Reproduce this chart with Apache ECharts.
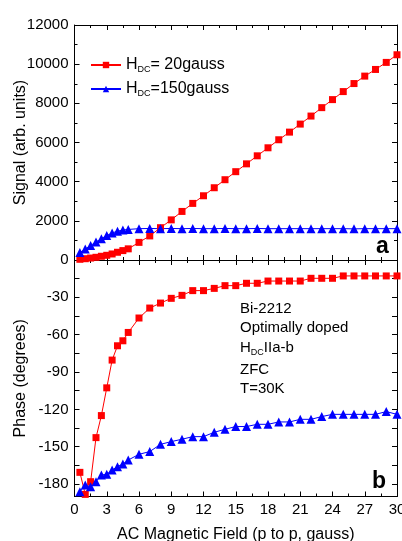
<!DOCTYPE html>
<html>
<head>
<meta charset="utf-8">
<script src="https://cdn.jsdelivr.net/npm/echarts@6/dist/echarts.min.js"></script>
<style>
html,body{margin:0;padding:0;background:#fff;}
#chart{width:402px;height:541px;}
</style>
</head>
<body>
<div id="chart"></div>
<script>
// AC magnetic field (p to p, gauss)
const fieldX = [0.5, 1, 1.5, 2, 2.5, 3, 3.5, 4, 4.5, 5,
  6, 7, 8, 9, 10, 11, 12, 13, 14, 15, 16, 17, 18, 19, 20,
  21, 22, 23, 24, 25, 26, 27, 28, 29, 30];
// Panel a: signal (arb. units)
const signal20 = [36, 66, 100, 138, 190, 240, 308, 395, 480, 570,
  900, 1230, 1650, 2050, 2480, 2890, 3280, 3690, 4100, 4510, 4910, 5320, 5730, 6140, 6530,
  6940, 7350, 7780, 8190, 8600, 9010, 9390, 9730, 10090, 10480];
const signal150 = [380, 560, 740, 920, 1090, 1250, 1380, 1470, 1530, 1560,
  1600, 1610, 1600, 1610, 1600, 1610, 1600, 1600, 1610, 1600, 1600, 1610, 1600, 1600, 1600,
  1600, 1600, 1600, 1600, 1600, 1590, 1600, 1600, 1600, 1600];
// Panel b: phase (degrees)
const phase20 = [-170.6, -188.3, -178.1, -142.7, -125, -102.7, -80.4, -68.9, -64.9, -58.2,
  -46.6, -38.6, -34.6, -30.8, -28.4, -24.6, -24.6, -22.8, -20.6, -20.6, -18.7, -18.7, -16.9, -16.9, -16.9,
  -16.9, -14.7, -14.7, -14.7, -12.8, -12.8, -12.8, -12.8, -12.8, -12.8];
const phase150 = [-186.2, -180.8, -182.1, -178.1, -172.7, -172.2, -168.7, -166, -163.9, -160.7,
  -156.1, -153.9, -148.1, -145.9, -144, -141.9, -141.9, -138.4, -136, -133.8, -133.8, -132, -132, -130.1, -130.1,
  -128, -128, -125.8, -124, -124, -124, -124, -124, -121.8, -124];
// tick labels
const xTicks = [0, 3, 6, 9, 12, 15, 18, 21, 24, 27, 30];
const signalTicks = [0, 2000, 4000, 6000, 8000, 10000, 12000];
const phaseTicks = [-180, -150, -120, -90, -60, -30];
const phaseMinorTicks = [-180, -165, -150, -135, -120, -105, -90, -75, -60, -45, -30, -15];
const seriesNames = ['HDC= 20gauss', 'HDC=150gauss'];
const notes = ['Bi-2212', 'Optimally doped', 'HDC||a-b', 'ZFC', 'T=30K'];

const FONT = "'Liberation Sans', Arial, sans-serif";
const pairs = (xs, ys) => xs.map((x, i) => [x, ys[i]]);
const plain = v => String(v);

function xAx(gridIndex, position, showLabel, name) {
  return {
    type: 'value', gridIndex, position, min: xTicks[0], max: xTicks[xTicks.length - 1], interval: 3,
    axisLine: { show: true, onZero: false, lineStyle: { color: '#000', width: 1 } },
    axisTick: { show: true, inside: true, length: 5, lineStyle: { color: '#000' } },
    minorTick: { show: true, splitNumber: 2, length: 3, lineStyle: { color: '#000' } },
    splitLine: { show: false },
    axisLabel: { show: showLabel, color: '#000', fontSize: 15, fontFamily: FONT, margin: 6, formatter: plain },
    name: name || '', nameLocation: 'middle', nameGap: 30, nameMoveOverlap: false,
    nameTextStyle: { color: '#000', fontSize: 16, fontFamily: FONT }
  };
}

const option = {
  animation: false,
  backgroundColor: '#fff',
  grid: [
    { left: 74.5, right: 5, top: 25, height: 235, containLabel: false, outerBoundsMode: 'none' },
    { left: 74.5, right: 5, top: 260, height: 236.5, containLabel: false, outerBoundsMode: 'none' }
  ],
  xAxis: [
    xAx(0, 'bottom', false),
    xAx(0, 'top', false),
    xAx(1, 'bottom', true, 'AC Magnetic Field (p to p, gauss)'),
    xAx(1, 'top', false)
  ],
  yAxis: [
    {
      type: 'value', gridIndex: 0, position: 'left', min: 0, max: 12000, interval: 2000,
      axisLine: { show: true, onZero: false, lineStyle: { color: '#000' } },
      axisTick: { show: true, inside: true, length: 5, lineStyle: { color: '#000' } },
      minorTick: { show: true, splitNumber: 2, length: 3, lineStyle: { color: '#000' } },
      splitLine: { show: false },
      axisLabel: { color: '#000', fontSize: 15, fontFamily: FONT, margin: 6, formatter: plain },
      name: 'Signal (arb. units)', nameLocation: 'middle', nameGap: 46, nameMoveOverlap: false,
      nameTextStyle: { color: '#000', fontSize: 16, fontFamily: FONT }
    },
    {
      type: 'value', gridIndex: 0, position: 'right', min: 0, max: 12000, interval: 2000,
      axisLine: { show: true, onZero: false, lineStyle: { color: '#000' } },
      axisTick: { show: true, inside: true, length: 5, lineStyle: { color: '#000' } },
      minorTick: { show: true, splitNumber: 2, length: 3, lineStyle: { color: '#000' } },
      splitLine: { show: false },
      axisLabel: { show: false }
    },
    {
      type: 'value', gridIndex: 1, position: 'left', min: -190, max: 0,
      axisLine: { show: true, onZero: false, lineStyle: { color: '#000' } },
      axisTick: { show: true, inside: true, length: 5, customValues: phaseMinorTicks, lineStyle: { color: '#000' } },
      splitLine: { show: false },
      axisLabel: { color: '#000', fontSize: 15, fontFamily: FONT, margin: 6, customValues: phaseTicks, formatter: plain },
      name: 'Phase (degrees)', nameLocation: 'middle', nameGap: 46, nameMoveOverlap: false,
      nameTextStyle: { color: '#000', fontSize: 16, fontFamily: FONT }
    },
    {
      type: 'value', gridIndex: 1, position: 'right', min: -190, max: 0,
      axisLine: { show: true, onZero: false, lineStyle: { color: '#000' } },
      axisTick: { show: true, inside: true, length: 5, customValues: phaseMinorTicks, lineStyle: { color: '#000' } },
      splitLine: { show: false },
      axisLabel: { show: false }
    }
  ],
  legend: {
    data: seriesNames,
    orient: 'vertical', left: 85, top: 51, itemGap: 6,
    itemWidth: 30, itemHeight: 8,
    formatter: function (name) {
      return name === seriesNames[0] ? '{h|H}{s|DC}{h|= 20gauss}' : '{h|H}{s|DC}{h|=150gauss}';
    },
    textStyle: {
      color: '#000', fontFamily: FONT,
      rich: {
        h: { fontSize: 16, fontFamily: FONT, color: '#000', lineHeight: 18 },
        s: { fontSize: 9, fontFamily: FONT, color: '#000', lineHeight: 18, padding: [9, 0, 0, 0] }
      }
    }
  },
  series: [
    {
      name: seriesNames[0], type: 'line', xAxisIndex: 0, yAxisIndex: 0,
      data: pairs(fieldX, signal20), symbol: 'rect', symbolSize: 7, clip: false,
      itemStyle: { color: '#ff0000' }, lineStyle: { color: '#ff0000', width: 1 }
    },
    {
      name: seriesNames[1], type: 'line', xAxisIndex: 0, yAxisIndex: 0,
      data: pairs(fieldX, signal150), symbol: 'triangle', symbolSize: 9, clip: false,
      itemStyle: { color: '#0000ff' }, lineStyle: { color: '#0000ff', width: 1 }
    },
    {
      name: seriesNames[0], type: 'line', xAxisIndex: 2, yAxisIndex: 2,
      data: pairs(fieldX, phase20), symbol: 'rect', symbolSize: 7, clip: false,
      itemStyle: { color: '#ff0000' }, lineStyle: { color: '#ff0000', width: 1 }
    },
    {
      name: seriesNames[1], type: 'line', xAxisIndex: 2, yAxisIndex: 2,
      data: pairs(fieldX, phase150), symbol: 'triangle', symbolSize: 9, clip: false,
      itemStyle: { color: '#0000ff' }, lineStyle: { color: '#0000ff', width: 1 }
    }
  ],
  graphic: [
    { type: 'text', left: 240, top: 301, style: { text: notes[0], font: '15px ' + FONT, fill: '#000' } },
    { type: 'text', left: 240, top: 320, style: { text: notes[1], font: '15px ' + FONT, fill: '#000' } },
    { type: 'text', left: 240, top: 339, style: {
        text: '{h|H}{s|DC}{h|IIa-b}', fill: '#000',
        rich: {
          h: { fontSize: 15, fontFamily: FONT, fill: '#000', lineHeight: 18 },
          s: { fontSize: 9, fontFamily: FONT, fill: '#000', lineHeight: 18, padding: [9, 0, 0, 0] }
        } } },
    { type: 'text', left: 240, top: 362, style: { text: notes[3], font: '15px ' + FONT, fill: '#000' } },
    { type: 'text', left: 240, top: 381, style: { text: notes[4], font: '15px ' + FONT, fill: '#000' } },
    { type: 'text', left: 376, top: 235, style: { text: 'a', font: 'bold 23px ' + FONT, fill: '#000' } },
    { type: 'text', left: 372, top: 470, style: { text: 'b', font: 'bold 23px ' + FONT, fill: '#000' } }
  ]
};

const chart = echarts.init(document.getElementById('chart'), null, { renderer: 'canvas' });
chart.setOption(option);
</script>
</body>
</html>
